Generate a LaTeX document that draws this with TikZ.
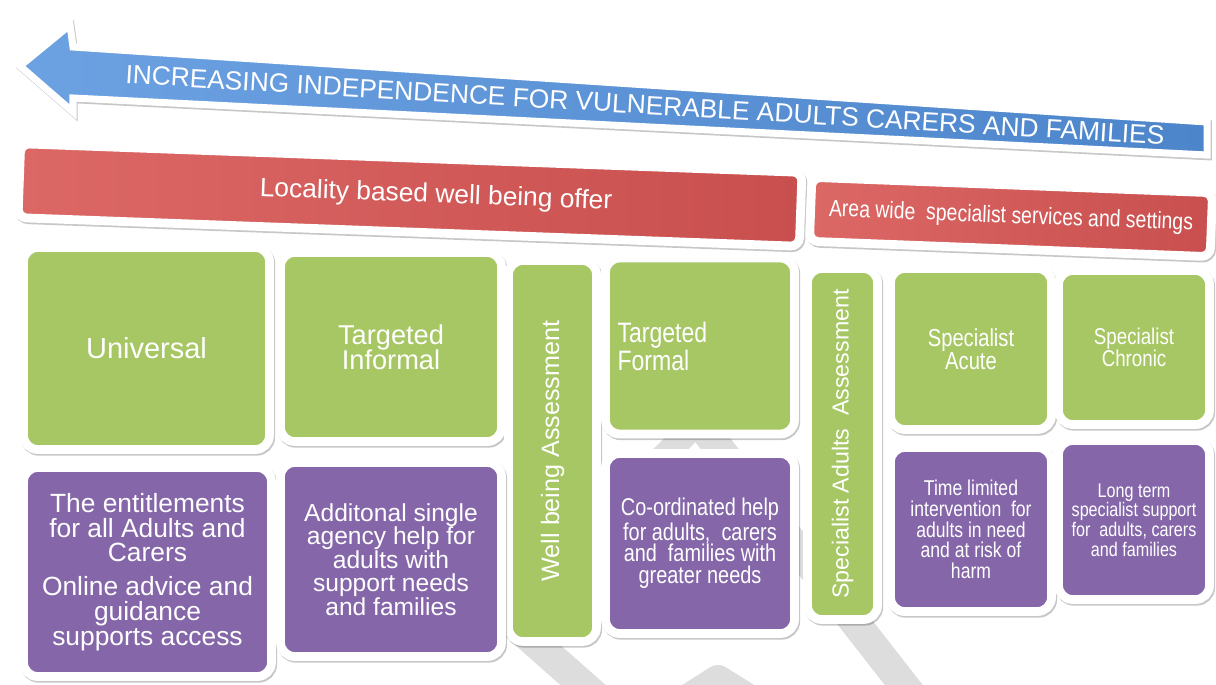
\documentclass[tikz,border=0pt]{standalone}
\usepackage{fontspec}
\setmainfont{Liberation Sans}
\newfontfamily\narrowfont{Liberation Sans}[FakeStretch=0.82]
\usetikzlibrary{shadows}

\definecolor{arrowblue}{HTML}{6CA2E2}
\definecolor{arrowbluedark}{HTML}{4D85CB}
\definecolor{barred}{HTML}{DC6866}
\definecolor{barreddark}{HTML}{C84F4E}
\definecolor{boxgreen}{HTML}{A6C764}
\definecolor{boxpurple}{HTML}{8567A9}
\definecolor{stripegrey}{HTML}{DDDDDD}

\tikzset{
  frame/.style={draw=white, line width=5pt, rounded corners=8pt, text=white,
    align=center, inner sep=2pt,
    drop shadow={shadow xshift=.7pt, shadow yshift=-1pt, opacity=.22,
      fill=black, draw=black, line width=5pt}},
  topbox/.style={frame, fill=boxgreen},
  lowbox/.style={frame, fill=boxpurple},
  redbar/.style={frame, rounded corners=5pt, left color=barred, right color=barreddark},
  stripe/.style={draw=stripegrey, line width=0.6cm}
}

\begin{document}
\begin{tikzpicture}[x=0.02cm, y=-0.02cm]
  \useasboundingbox (0,0) rectangle (1216,684);

  % grey reflections behind the boxes
  \begin{scope}
    \clip (0,0) rectangle (1216,684);
    \draw[stripe] (480,594) -- (600,700);
    \draw[stripe, line join=round] (655,720) -- (718,680) -- (782,720);
    \draw[stripe] (701,425) -- (931,720);
    \draw[stripe, line width=0.5cm] (640,480) -- (720,400);
  \end{scope}

  % arrow
  \draw[draw=white, line width=4pt, line join=miter,
        left color=arrowblue, right color=arrowbluedark,
        drop shadow={shadow xshift=.7pt, shadow yshift=-1pt, opacity=.22,
          fill=black, draw=black, line width=4pt}]
    (20,66) -- (70,25) -- (73,47) -- (1207,122) -- (1207,155)
    -- (73,98) -- (73,112) -- cycle;
  \node[rotate=-3.4, text=white, font=\fontsize{15}{15}\selectfont] (trend) at (645,105)
    {INCREASING INDEPENDENCE FOR VULNERABLE ADULTS CARERS AND FAMILIES};

  % red headers
  \node[redbar, rotate=-2.1, minimum width=15.64cm, minimum height=1.48cm,
        font=\fontsize{15}{15}\selectfont] (locality) at (410,195)
    {\hspace*{1.04cm}Locality based well being offer};
  \node[redbar, rotate=-2.2, minimum width=8.02cm, minimum height=1.28cm,
        font=\narrowfont\fontsize{13.5}{13.5}\selectfont] (areawide) at (1011,217)
    {Area wide \ specialist services and settings};

  % green tier boxes
  \begin{scope}[every node/.style={topbox}]
    \node[minimum width=4.92cm, minimum height=4.04cm, font=\fontsize{16.5}{16}\selectfont]
      (universal) at (146.5,348.5) {Universal};
    \node[minimum width=4.42cm, minimum height=3.78cm, font=\fontsize{15.5}{14.5}\selectfont]
      (informal) at (391,347) {Targeted\\Informal};
    \node[rotate=90, minimum width=7.62cm, minimum height=1.76cm, font=\fontsize{14.3}{14}\selectfont]
      (wellbeing) at (552.5,451) {Well being Assessment};
    \node[minimum width=3.78cm, minimum height=3.52cm, text width=3.3cm, align=left,
          font=\narrowfont\fontsize{16}{14.5}\selectfont]
      (formal) at (700,346) {Targeted\\Formal};
    \node[rotate=90, minimum width=7.02cm, minimum height=1.40cm, font=\fontsize{13.2}{13}\selectfont]
      (specassess) at (842.5,444) {Specialist Adults \ Assessment};
    \node[minimum width=3.22cm, minimum height=3.22cm, font=\narrowfont\fontsize{14}{13}\selectfont]
      (acute) at (971,349) {Specialist\\Acute};
    \node[minimum width=3.02cm, minimum height=3.08cm, font=\narrowfont\fontsize{13}{12.5}\selectfont]
      (chronic) at (1134,347.5) {Specialist\\Chronic};
  \end{scope}

  % purple descriptions
  \begin{scope}[every node/.style={lowbox}]
    \node[minimum width=4.96cm, minimum height=4.18cm, font=\fontsize{15}{14.2}\selectfont]
      (universaltext) at (147.5,572)
      {The entitlements\\for all Adults and\\Carers\\[5pt]Online advice and\\guidance\\supports access};
    \node[minimum width=4.42cm, minimum height=3.88cm, font=\fontsize{14}{13.4}\selectfont]
      (informaltext) at (391,559.5)
      {Additonal single\\agency help for\\adults with\\support needs\\and families};
    \node[minimum width=3.78cm, minimum height=3.6cm, font=\narrowfont\fontsize{13.8}{12.5}\selectfont]
      (formaltext) at (700,543.5)
      {Co-ordinated help\\for adults, \ carers\\and \ families with\\greater needs};
    \node[minimum width=3.22cm, minimum height=3.28cm, font=\narrowfont\fontsize{12.2}{11.8}\selectfont]
      (acutetext) at (971,529.5)
      {Time limited\\intervention \ for\\adults in need\\and at risk of\\harm};
    \node[minimum width=3.02cm, minimum height=3.18cm, font=\narrowfont\fontsize{11.2}{11.2}\selectfont]
      (chronictext) at (1134,520)
      {Long term\\specialist support\\for \ adults, carers\\and families};
  \end{scope}

\end{tikzpicture}
\end{document}
